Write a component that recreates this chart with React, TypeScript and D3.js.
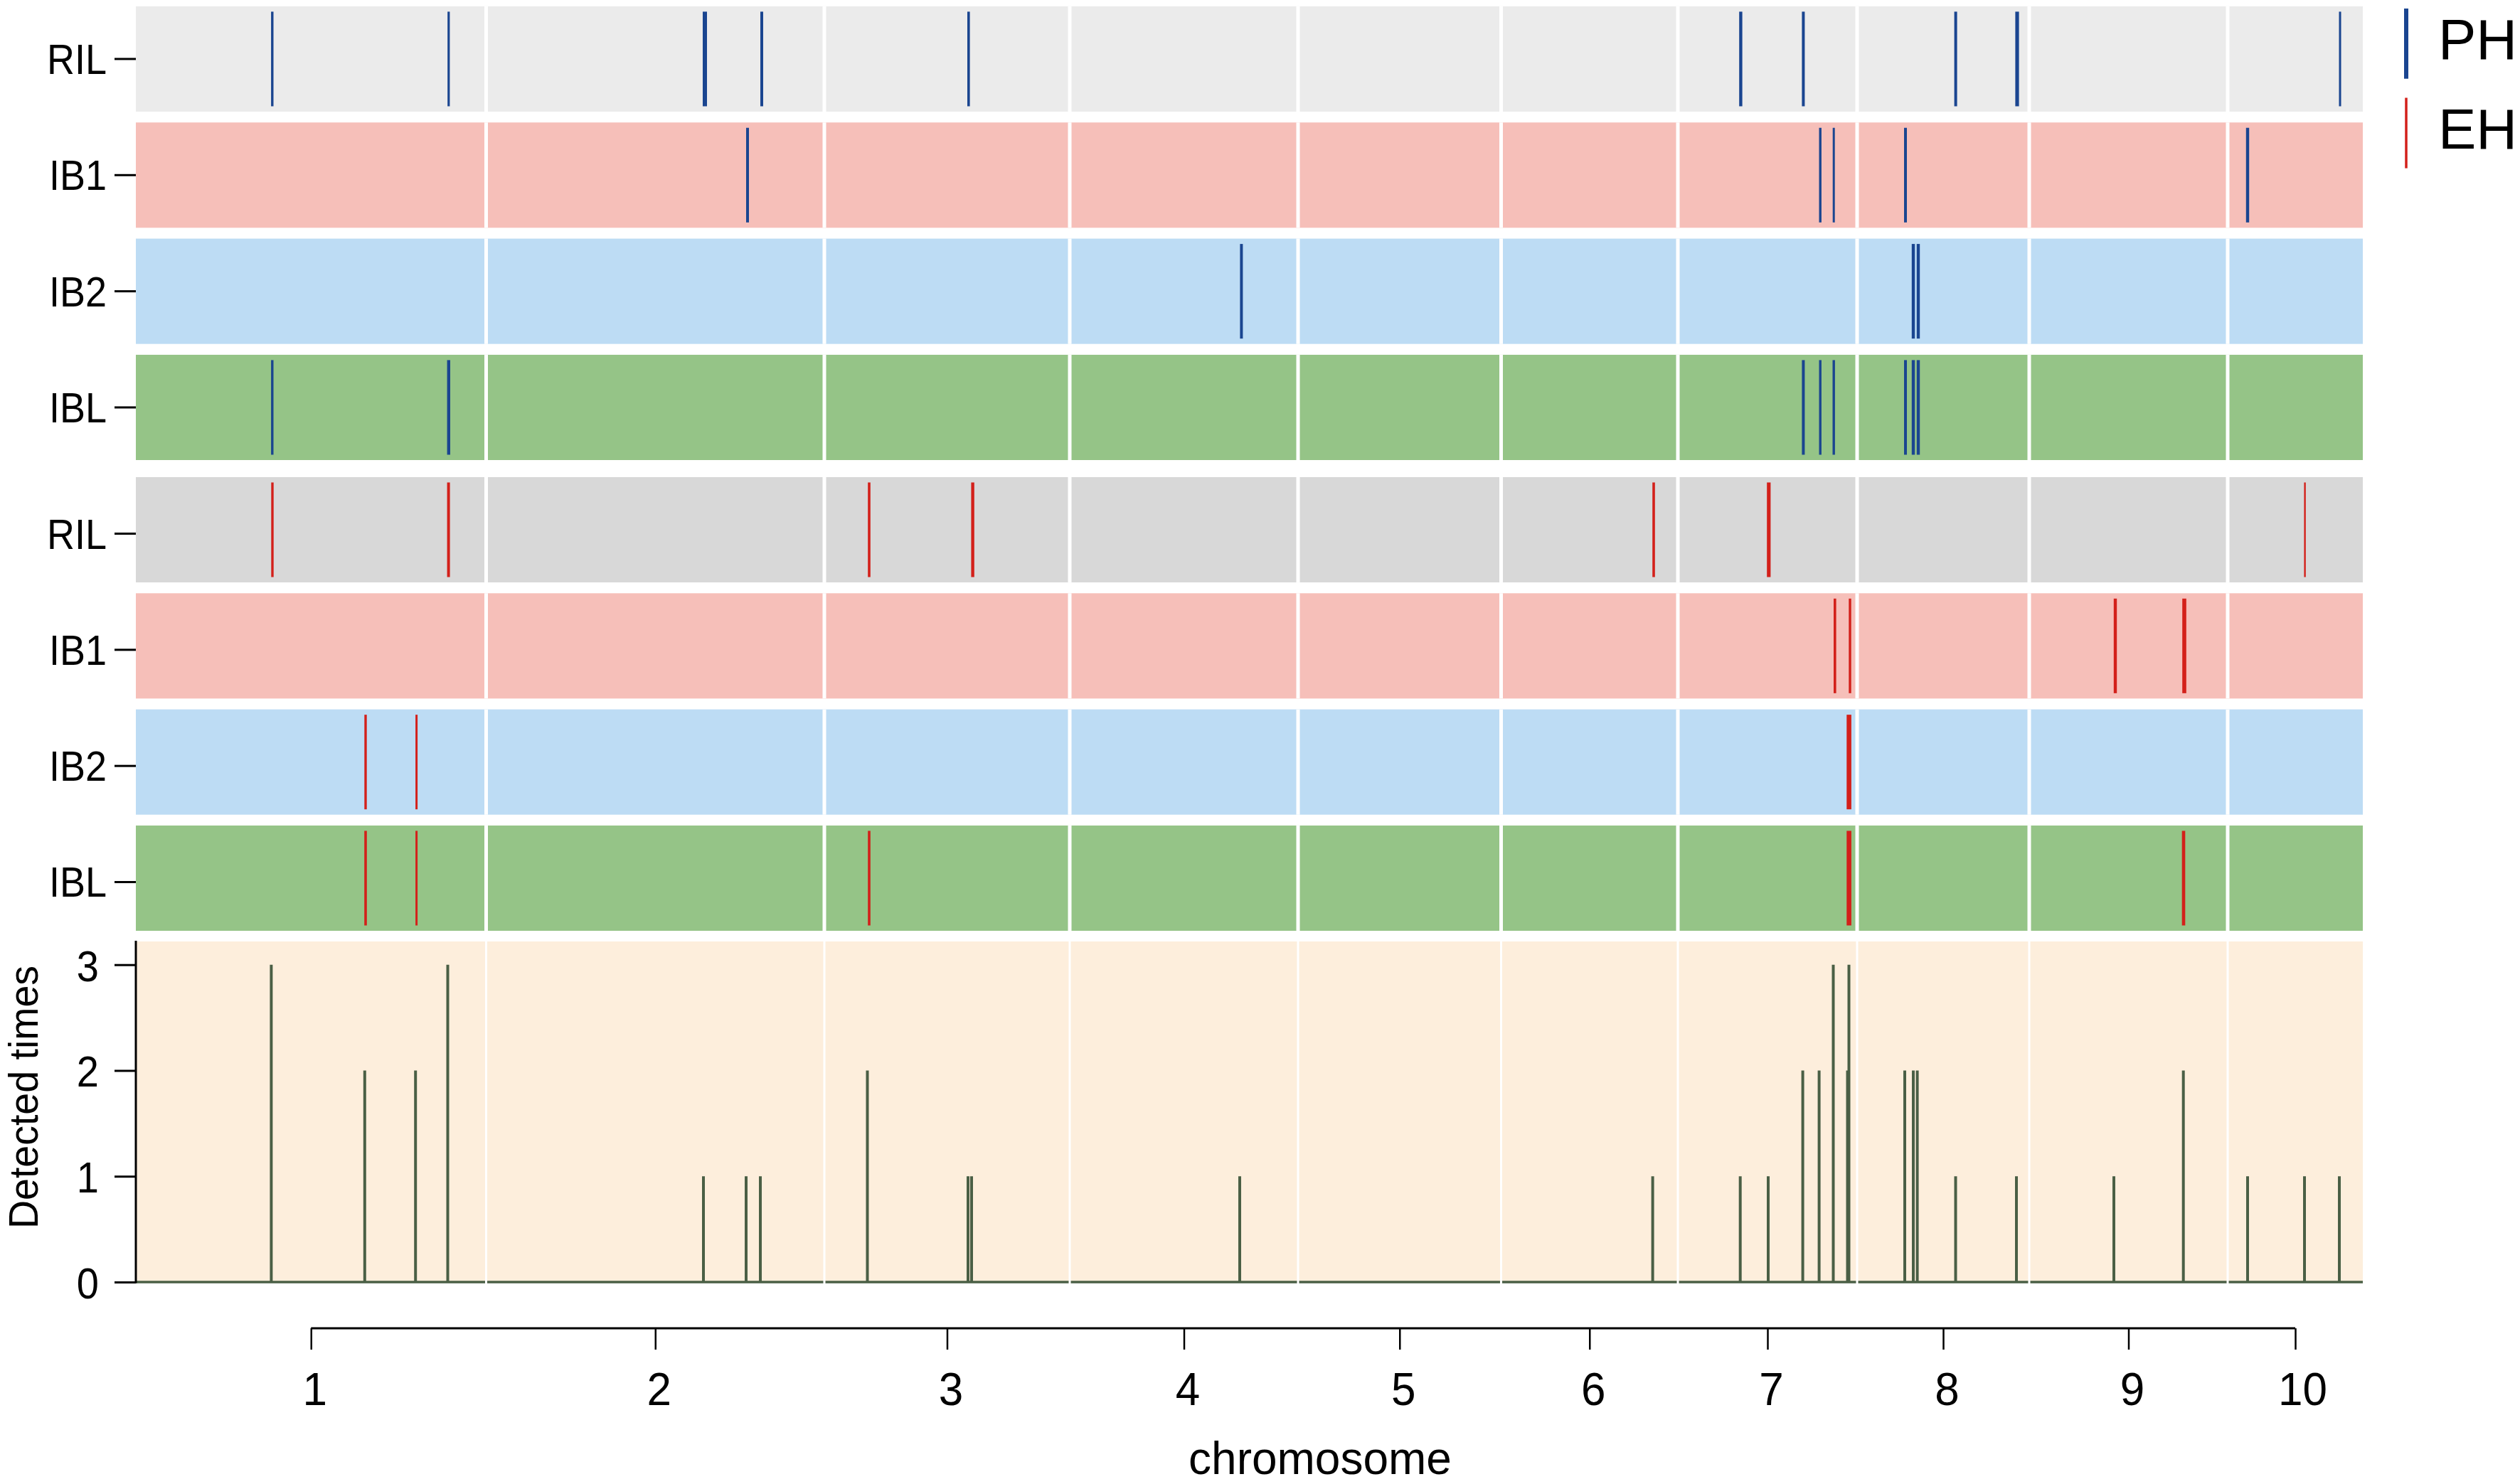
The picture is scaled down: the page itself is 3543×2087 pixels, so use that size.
import React, { useEffect, useRef } from 'react';
import * as d3 from 'd3';

const FONT = '"Liberation Sans", Arial, sans-serif';

const populations = ['RIL', 'IB1', 'IB2', 'IBL'];
const chromosomes = ['1', '2', '3', '4', '5', '6', '7', '8', '9', '10'];
// chromosome ends along the concatenated genome axis
const chromEnds = [246.25, 484, 656.5, 817, 959.75, 1084, 1210, 1331, 1470.5, 1565.5];
const detectedTicks = [0, 1, 2, 3];

// QTL intervals as [midpoint, span] on the genome axis
const phRIL = [[95.9, 1.7], [219.9, 1.6], [400, 3], [440, 2], [585.4, 1.8], [1128.2, 2.2], [1172.2, 2], [1279.3, 2], [1322.5, 2.6], [1549.5, 1.5]];
const phIB1 = [[430, 2], [1184.1, 1.7], [1193.6, 1.5], [1244, 2], [1484.5, 2.2]];
const phIB2 = [[777.2, 2], [1249.5, 2.2], [1253, 2.2]];
const phIBL = [[95.9, 1.7], [219.9, 2.2], [1172.2, 2], [1184.1, 1.7], [1193.6, 1.7], [1244, 2], [1249.5, 2.2], [1253, 2.2]];

const ehRIL = [[96, 1.7], [219.8, 2], [515.5, 1.8], [588.3, 2.2], [1067, 1.8], [1147.9, 2.6], [1524.8, 1.2]];
const ehIB1 = [[1194.4, 1.8], [1205, 1.7], [1391.5, 2.2], [1440, 2.8]];
const ehIB2 = [[161.5, 1.7], [197.3, 1.5], [1204.3, 3.3]];
const ehIBL = [[161.5, 1.8], [197.3, 1.5], [515.5, 1.8], [1204.3, 3.3], [1439.5, 2.3]];

const peakPositions = [95.2, 160.9, 196.6, 219.25, 399, 429, 439, 514.25, 585, 587.5, 776, 1066.3, 1127.85, 1147.5, 1171.8, 1183.3, 1193.25, 1203.25, 1204.25, 1243.5, 1249.5, 1252.3, 1279.25, 1322, 1390.5, 1439.35, 1484.5, 1524.5, 1549];
const peakCounts = [3, 2, 2, 3, 1, 1, 1, 2, 1, 1, 1, 1, 1, 1, 2, 2, 3, 2, 3, 2, 2, 2, 1, 1, 1, 2, 1, 1, 1];

const App = () => {
  const ref = useRef<SVGSVGElement | null>(null);

  useEffect(() => {
    const svg = d3.select(ref.current);
    svg.selectAll('*').remove();

    const x = d3.scaleLinear().domain([0, 1565.5]).range([191, 3322]);
    const bandsA = d3.scaleBand().domain(populations).range([8.9, 647]).paddingInner(0.0935);
    const bandsB = d3.scaleBand().domain(populations).range([671, 1309]).paddingInner(0.0935);
    const y = d3.scaleLinear().domain([0, 3]).range([1803, 1356.7]);

    const drawRows = (bands, fills, series, color, tickShift) => {
      const inset = 7.5;
      populations.forEach((pop, i) => {
        const top = bands(pop);
        const h = bands.bandwidth();
        const g = svg.append('g');
        g.append('rect').attr('x', x(0)).attr('y', top).attr('width', x(1565.5) - x(0)).attr('height', h).attr('fill', fills[i]);
        g.selectAll('.gap').data(chromEnds.slice(0, -1)).enter().append('line')
          .attr('x1', (d) => x(d)).attr('x2', (d) => x(d))
          .attr('y1', top).attr('y2', top + h)
          .attr('stroke', '#fff').attr('stroke-width', 5);
        g.selectAll('.qtl').data(series[i]).enter().append('rect')
          .attr('x', (d) => x(d[0] - d[1] / 2))
          .attr('width', (d) => x(d[0] + d[1] / 2) - x(d[0] - d[1] / 2))
          .attr('y', top + inset).attr('height', h - 2 * inset)
          .attr('fill', color);
      });
      const axis = d3.axisLeft(bands).tickSize(30).tickPadding(11);
      const ag = svg.append('g').attr('transform', `translate(${x(0)},${tickShift})`).call(axis);
      ag.select('.domain').remove();
      ag.selectAll('line').attr('stroke', '#000').attr('stroke-width', 3);
      ag.selectAll('text').attr('font-family', FONT).attr('font-size', 54).attr('fill', '#000')
        .attr('transform', 'translate(0,2) scale(1,1.1)');
    };

    drawRows(bandsA, ['#ebebeb', '#f6bfb9', '#bddcf4', '#95c487'], [phRIL, phIB1, phIB2, phIBL], '#1a4590', 0);
    drawRows(bandsB, ['#d8d8d8', '#f6bfb9', '#bddcf4', '#95c487'], [ehRIL, ehIB1, ehIB2, ehIBL], '#d3201a', 5.5);

    // detected times panel
    const panelTop = 1324;
    svg.append('rect').attr('x', x(0)).attr('y', panelTop).attr('width', x(1565.5) - x(0)).attr('height', y(0) - panelTop).attr('fill', '#fdeedc');

    const line = d3.line().x((d) => x(d[0])).y((d) => y(d[1]));
    svg.append('path')
      .attr('d', line([[0, 0], [1565.5, 0]]))
      .attr('stroke', '#4a5f45').attr('stroke-width', 3.5).attr('fill', 'none');
    svg.selectAll('.peak').data(peakPositions).enter().append('path')
      .attr('d', (d, i) => line([[d, 0], [d, peakCounts[i]]]))
      .attr('stroke', '#4a5f45').attr('stroke-width', 4).attr('fill', 'none');

    svg.selectAll('.gap2').data(chromEnds.slice(0, -1)).enter().append('line')
      .attr('x1', (d) => x(d)).attr('x2', (d) => x(d))
      .attr('y1', panelTop).attr('y2', y(0) + 4)
      .attr('stroke', '#fff').attr('stroke-width', 3);

    const yAxis = svg.append('g').attr('transform', `translate(${x(0)},0)`)
      .call(d3.axisLeft(y).tickValues(detectedTicks).tickFormat(d3.format('d')).tickSize(30).tickPadding(22));
    yAxis.select('.domain').remove();
    yAxis.selectAll('line').attr('stroke', '#000').attr('stroke-width', 3);
    yAxis.selectAll('text').attr('font-family', FONT).attr('font-size', 56).attr('fill', '#000')
      .attr('transform', 'translate(0,3) scale(1,1.08)');
    svg.append('line').attr('x1', x(0)).attr('x2', x(0)).attr('y1', panelTop - 1).attr('y2', y(0) + 1.5)
      .attr('stroke', '#000').attr('stroke-width', 3);

    svg.append('text')
      .attr('transform', 'translate(53,1543) rotate(-90) scale(1,1.05)')
      .attr('text-anchor', 'middle').attr('font-family', FONT).attr('font-size', 55.5)
      .text('Detected times');

    // chromosome axis, ticks at chromosome midpoints
    const chromStarts = [0, ...chromEnds.slice(0, -1)];
    const mids = chromEnds.map((e, i) => (e + chromStarts[i]) / 2);
    const xAxis = svg.append('g').attr('transform', 'translate(0,1868)')
      .call(d3.axisBottom(x).tickValues(mids).tickFormat((d, i) => chromosomes[i]).tickSize(30).tickPadding(26).tickSizeOuter(0));
    xAxis.select('.domain').attr('stroke', '#000').attr('stroke-width', 3)
      .attr('d', `M${x(mids[0])},0H${x(mids[9])}`);
    xAxis.selectAll('line').attr('stroke', '#000').attr('stroke-width', 2.5);
    xAxis.selectAll('text').attr('font-family', FONT).attr('font-size', 62).attr('fill', '#000')
      .attr('dx', (d, i) => (i === 9 ? 10 : 5))
      .attr('transform', 'translate(0,3) scale(1,1.05)');

    svg.append('text').attr('x', 1856).attr('y', 2073)
      .attr('text-anchor', 'middle').attr('font-family', FONT).attr('font-size', 64)
      .text('chromosome');

    // legend
    const legend = [
      { label: 'PH', color: '#1a4590', width: 6, y1: 12, y2: 110.7, base: 82.6 },
      { label: 'EH', color: '#d3201a', width: 3.5, y1: 137.5, y2: 236.6, base: 208.5 },
    ];
    legend.forEach((l) => {
      svg.append('line').attr('x1', 3383).attr('x2', 3383).attr('y1', l.y1).attr('y2', l.y2)
        .attr('stroke', l.color).attr('stroke-width', l.width);
      svg.append('text').attr('x', 3428).attr('y', l.base)
        .attr('font-family', FONT).attr('font-size', 80).text(l.label);
    });
  }, []);

  return (
    <svg ref={ref} width={3543} height={2087} viewBox="0 0 3543 2087"
      style={{ position: 'absolute', left: 0, top: 0, background: '#fff', display: 'block' }} />
  );
};

export default App;
